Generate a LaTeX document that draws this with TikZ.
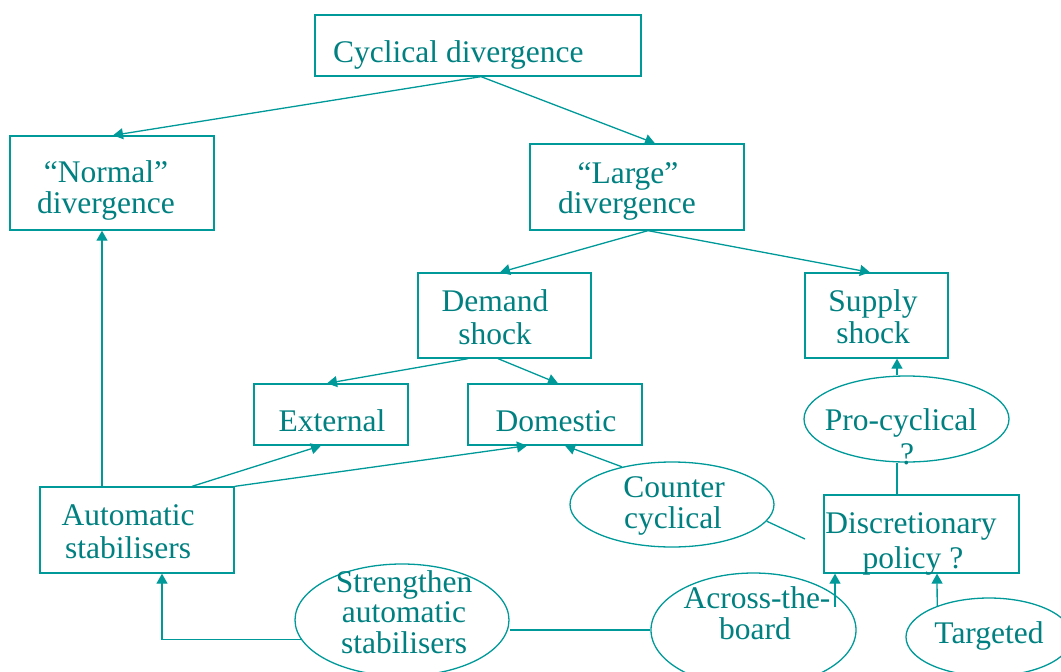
\documentclass[tikz,border=0pt]{standalone}
\usepackage{fontspec}
\setmainfont{Liberation Serif}
\usetikzlibrary{shapes.geometric,arrows.meta}
\definecolor{linec}{RGB}{0,153,153}
\definecolor{textc}{RGB}{0,128,128}
\begin{document}
\begin{tikzpicture}[x=1pt,y=-1pt,
 box/.style={draw=linec, line width=1.3pt, inner sep=0pt, rectangle},
 ell/.style={draw=linec, line width=1.3pt, inner sep=0pt, ellipse},
 txt/.style={text=textc, font=\fontsize{31.5}{34}\selectfont, inner sep=0pt, anchor=base},
 arr/.style={draw=linec, line width=1.3pt, -{Triangle[length=10pt,width=11pt]}},
 ln/.style={draw=linec, line width=1.3pt}]
\useasboundingbox (0,0) rectangle (1061,672);
% boxes
\node[box, minimum width=326pt, minimum height=61pt] (cyc) at (478,45.5) {};
\node[box, minimum width=204pt, minimum height=94pt] (normal) at (112,183) {};
\node[box, minimum width=214pt, minimum height=86pt] (large) at (637,187) {};
\node[box, minimum width=173pt, minimum height=85pt] (demand) at (504.5,315.5) {};
\node[box, minimum width=143pt, minimum height=85pt] (supply) at (876.5,315.5) {};
\node[box, minimum width=154pt, minimum height=61pt] (external) at (331,414.5) {};
\node[box, minimum width=174pt, minimum height=61pt] (domestic) at (555,414.5) {};
\node[box, minimum width=194pt, minimum height=86pt] (auto) at (137,530) {};
\node[box, minimum width=195pt, minimum height=78pt] (disc) at (921.5,534) {};
% ellipses
\node[ell, minimum width=205pt, minimum height=86pt] (procyc) at (906.5,419) {};
\node[ell, minimum width=204pt, minimum height=85pt] (counter) at (672,504.5) {};
\node[ell, minimum width=205pt, minimum height=114pt] (across) at (753.5,630) {};
\node[ell, minimum width=166pt, minimum height=78pt] (targeted) at (989,637) {};
\node[ell, minimum width=214pt, minimum height=112pt] (strengthen) at (402,620) {};
\coordinate (cfree) at (805,539);
% connectors
\draw[arr] ([xshift=3pt]cyc.south) -- ([xshift=1pt]normal.north);
\draw[arr] ([xshift=3pt]cyc.south) -- ([xshift=18pt]large.north);
\draw[arr] ([xshift=11pt]large.south) -- ([xshift=-4.5pt]demand.north);
\draw[arr] ([xshift=11pt]large.south) -- ([xshift=-6.5pt]supply.north);
\draw[arr] ([xshift=-36.5pt]demand.south) -- ([xshift=-4pt]external.north);
\draw[arr] ([xshift=-6.5pt]demand.south) -- ([xshift=3pt]domestic.north);
\draw[arr] ([xshift=-35pt]auto.north) -- ([xshift=-10pt]normal.south);
\draw[arr] ([xshift=55pt]auto.north) -- ([xshift=-10pt]external.south);
\draw[arr] (auto.north east) -- ([xshift=-28pt]domestic.south);
\draw[arr] (counter.143.5) -- ([xshift=10pt]domestic.south);
\draw[ln] (counter.-10) -- (cfree);
\draw[ln] ([xshift=-24.5pt]disc.north) -- ([xshift=-9.5pt]procyc.south);
\draw[arr] ([xshift=-9.5pt]procyc.north) -- ([xshift=20.5pt]supply.south);
\draw[arr] ([xshift=81.5pt,yshift=23pt]across.center) -- ([xshift=-86.5pt]disc.south);
\draw[arr] (targeted.149.7) -- ([xshift=15.5pt]disc.south);
\draw[ln] (across.west) -- (across.west -| strengthen.east);
\draw[arr] (strengthen.191) -| ([xshift=25pt]auto.south);
% texts
\node[txt, anchor=base west] (t-cyc) at (333,62) {Cyclical divergence};
\node[txt] (t-normal1) at (106,182) {“Normal”};
\node[txt] (t-normal2) at (106,213) {divergence};
\node[txt] (t-large1) at (628,183) {“Large”};
\node[txt] (t-large2) at (627,213) {divergence};
\node[txt] (t-demand1) at (495,311) {Demand};
\node[txt] (t-demand2) at (495,344) {shock};
\node[txt] (t-supply1) at (873,311) {Supply};
\node[txt] (t-supply2) at (873,343) {shock};
\node[txt] (t-external) at (332,431) {External};
\node[txt] (t-domestic) at (556,431) {Domestic};
\node[txt] (t-procyc1) at (901,430) {Pro-cyclical};
\node[txt] (t-procyc2) at (907,464) {?};
\node[txt] (t-counter1) at (674,497) {Counter};
\node[txt] (t-counter2) at (673,528) {cyclical};
\node[txt] (t-disc1) at (911,533) {Discretionary};
\node[txt] (t-disc2) at (913,568) {policy ?};
\node[txt] (t-auto1) at (128,525) {Automatic};
\node[txt] (t-auto2) at (128,558) {stabilisers};
\node[txt] (t-str1) at (404,592) {Strengthen};
\node[txt] (t-str2) at (404,622) {automatic};
\node[txt] (t-str3) at (404,653) {stabilisers};
\node[txt] (t-across1) at (757,608) {Across-the-};
\node[txt] (t-across2) at (755,639) {board};
\node[txt] (t-targeted) at (989,643) {Targeted};
\end{tikzpicture}
\end{document}
